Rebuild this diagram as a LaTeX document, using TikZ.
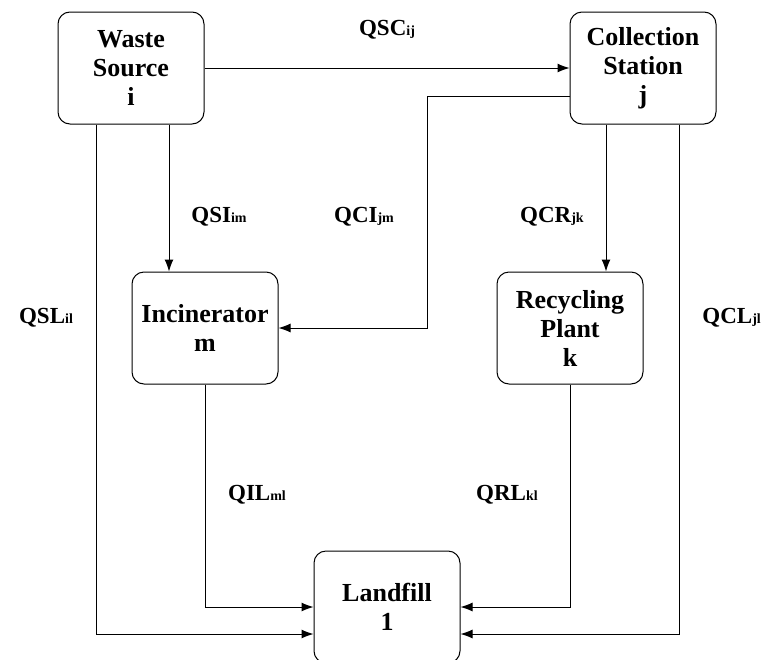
\documentclass[tikz,border=0pt]{standalone}
\usepackage{fontspec}
\setmainfont{Liberation Serif}
\usetikzlibrary{arrows.meta}

% flow label: name with small subscript
\newcommand{\qlbl}[2]{#1{\fontsize{14}{14}\selectfont #2}}

\begin{document}
\begin{tikzpicture}[x=1pt, y=-1pt,
    facility/.style={draw, rectangle, rounded corners=12pt, line width=1pt,
        minimum width=146pt, minimum height=112pt, align=center,
        font=\bfseries\fontsize{26}{29}\selectfont},
    flow/.style={line width=1pt, -{Latex[length=12pt, width=9pt]}},
    flowlabel/.style={font=\bfseries\fontsize{23}{26}\selectfont}]

    \useasboundingbox (0, 0) rectangle (763, 659);

    % 设施
    \node[facility] (source) at (131, 68) {Waste\\Source\\i};
    \node[facility] (station) at (643, 68) {Collection\\Station\\j};
    \node[facility] (incin) at (205, 328) {Incinerator\\m};
    \node[facility] (recyc) at (570, 328) {Recycling\\Plant\\k};
    \node[facility] (landfill) at (387, 607) {Landfill\\1};

    % 转折点
    \coordinate (bendci) at (427, 96);
    \coordinate (xsi) at (169, 0);
    \coordinate (xsl) at (96, 0);
    \coordinate (xcr) at (606, 0);
    \coordinate (xcl) at (679, 0);
    \coordinate (ylow) at (0, 634);

    % 连线
    \draw[flow] (source) -- (station);
    \draw[flow] (station.west |- bendci) -- (bendci) |- (incin.east);
    \draw[flow] (source.south -| xsi) -- (incin.north -| xsi);
    \draw[flow] (station.south -| xcr) -- (recyc.north -| xcr);
    \draw[flow] (source.south -| xsl) |- (landfill.west |- ylow);
    \draw[flow] (station.south -| xcl) |- (landfill.east |- ylow);
    \draw[flow] (incin.south) |- (landfill.west);
    \draw[flow] (recyc.south) |- (landfill.east);

    % 标签
    \node[flowlabel] (lsc) at (387, 30) {\qlbl{QSC}{ij}};
    \node[flowlabel] (lsi) at (219, 217) {\qlbl{QSI}{im}};
    \node[flowlabel] (lci) at (364, 217) {\qlbl{QCI}{jm}};
    \node[flowlabel] (lcr) at (552, 217) {\qlbl{QCR}{jk}};
    \node[flowlabel] (lsl) at (46, 318) {\qlbl{QSL}{il}};
    \node[flowlabel, anchor=east, inner sep=1pt] (lcl) at (762, 318) {\qlbl{QCL}{jl}};
    \node[flowlabel] (lil) at (257, 495) {\qlbl{QIL}{ml}};
    \node[flowlabel] (lrl) at (507, 495) {\qlbl{QRL}{kl}};

\end{tikzpicture}
\end{document}
